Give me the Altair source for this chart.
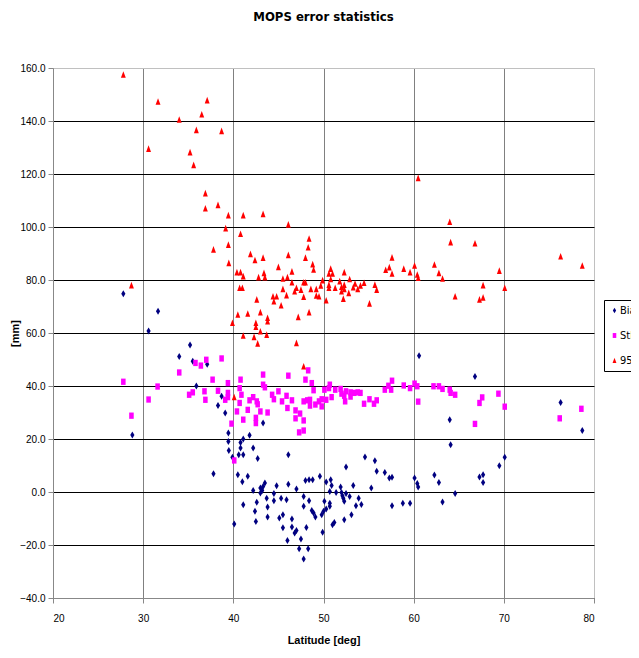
import altair as alt
import pandas as pd

# ---- data ----
bias_lat = [27.8, 31.65, 30.6, 35.2, 34.0, 35.5, 37.1, 35.9, 38.7, 38.3, 39.1, 28.8, 39.45, 39.45, 39.5, 40.8,
            39.9, 37.8, 40.5, 40.6, 41.1, 40.8, 41.1, 41.8, 42.2, 42.7, 43.3, 46.1, 41.0, 41.6, 40.1, 41.1,
            42.2, 42.6, 42.4, 42.5, 43.0, 43.2, 43.3, 43.5, 43.0, 43.7, 43.8, 43.8, 44.5, 44.5, 44.8, 45.1,
            45.5, 45.5, 45.3, 45.9, 46.1, 46.0, 46.5, 46.5, 46.8, 47.0, 47.0, 47.5, 47.3, 47.8, 48.3, 47.8,
            47.8, 48.1, 48.0, 48.4, 48.8, 48.4, 48.7, 48.9, 49.1, 49.6, 49.8, 49.9, 50.0, 50.1, 50.3, 50.3,
            50.7, 50.7, 50.8, 50.9, 50.7, 51.0, 51.2, 51.4, 51.9, 52.0, 52.1, 52.2, 52.3, 52.3, 52.5, 52.5,
            52.9, 53.1, 53.3, 53.6, 53.9, 54.2, 54.6, 55.3, 55.7, 55.9, 56.8, 57.3, 57.6, 57.6, 58.8, 59.6,
            60.6, 66.8, 76.3, 78.7, 64.0, 64.1, 70.1, 69.5, 60.1, 60.4, 60.5, 62.3, 62.8, 64.6, 63.2, 67.3,
            67.7, 67.7]
bias_val = [74.8, 68.2, 60.8, 55.5, 51.1, 49.3, 48.2, 40.0, 36.1, 32.6, 29.8, 21.5, 22.3, 19.1, 15.7, 18.7,
            13.1, 6.9, 6.5, 14.1, 14.1, 16.6, 20.0, 21.4, 16.6, 12.6, 26.0, 14.1, 3.9, 5.9, -12.1, -4.8,
            0.6, -3.9, -7.3, -11.1, 1.5, 0.6, 2.1, 3.4, -0.4, -2.4, -5.7, -9.4, -0.6, -3.3, 2.4, -9.8,
            -8.6, -13.5, -2.4, -2.9, 2.9, -18.3, -10.2, -13.2, -15.5, -14.5, 1.1, -17.7, -21.4, -25.3, -21.4, -1.7,
            -5.4, -13.4, 4.3, 4.6, 4.6, -3.3, -7.0, -7.9, -9.4, 5.9, -8.6, -15.2, -7.3, -3.5, -6.4, 3.8,
            -4.2, -5.4, 4.6, 2.5, 0.2, -12.4, -11.5, -0.2, 1.9, -0.2, -1.4, -2.4, -3.5, -10.5, 9.4, -0.6,
            -1.7, -8.6, 2.5, -5.2, -2.4, -4.7, 13.2, 1.5, 11.8, 7.8, 7.4, 5.3, 5.6, -5.2, -4.2, -4.2,
            51.4, 43.6, 33.8, 23.2, 27.3, 17.8, 13.1, 9.9, 5.3, 3.2, 1.9, 6.4, 3.6, -0.6, -3.8, 5.7,
            6.5, 3.6]

sd_lat = [27.8, 28.7, 30.6, 31.6, 34.0, 35.8, 36.4, 37.0, 38.7, 37.7, 35.1, 35.5, 36.8, 36.9, 38.3, 39.1,
          39.4, 39.4, 40.7, 40.8, 39.8, 40.4, 40.7, 40.1, 39.4, 40.9, 41.1, 41.6, 41.8, 42.2, 42.6, 42.7,
          42.5, 42.5, 43.0, 43.3, 43.3, 43.5, 43.8, 44.3, 44.5, 45.0, 45.4, 45.9, 46.0, 46.1, 46.5, 46.9,
          46.9, 47.4, 47.8, 47.3, 47.8, 47.8, 48.0, 48.3, 48.2, 48.5, 48.7, 48.9, 48.5, 49.1, 49.5, 49.8,
          49.8, 50.1, 50.3, 50.6, 50.7, 50.9, 51.3, 51.9, 52.0, 52.3, 52.5, 52.4, 53.0, 53.0, 53.4, 53.8,
          54.1, 54.5, 55.1, 55.6, 55.9, 56.8, 57.2, 57.5, 57.6, 58.9, 59.6, 60.1, 60.4, 60.5, 62.2, 62.8,
          63.2, 64.0, 64.1, 64.6, 66.8, 67.3, 67.6, 69.4, 70.1, 76.2, 78.6]
sd_val = [41.6, 28.8, 34.9, 39.8, 45.1, 48.7, 47.7, 49.9, 50.4, 42.4, 36.7, 37.6, 38.0, 34.8, 38.2, 34.8,
          41.1, 35.8, 39.2, 42.4, 25.8, 30.4, 33.6, 11.9, 37.4, 36.7, 27.3, 31.0, 34.6, 35.8, 34.2, 33.1,
          28.0, 26.0, 30.4, 44.3, 40.5, 39.5, 30.0, 36.7, 35.0, 38.0, 34.2, 36.3, 31.7, 43.9, 34.6, 30.8,
          27.8, 29.6, 27.0, 22.5, 23.2, 34.2, 42.4, 45.9, 34.6, 34.8, 41.1, 38.4, 32.6, 33.0, 34.2, 35.0,
          32.3, 38.6, 34.8, 39.2, 40.5, 35.8, 38.6, 38.9, 37.1, 36.3, 38.0, 34.2, 36.0, 37.6, 37.4, 37.6,
          37.4, 33.3, 35.0, 33.3, 34.6, 38.6, 40.1, 38.6, 42.0, 40.2, 39.2, 40.9, 39.9, 34.1, 39.9, 39.9,
          38.9, 38.6, 37.4, 36.7, 25.7, 33.6, 35.7, 37.1, 32.2, 27.8, 31.4]

p95_lat = [27.8, 31.65, 37.1, 36.5, 34.0, 35.9, 38.7, 30.6, 35.2, 35.6, 36.9, 36.9, 38.3, 39.45, 41.1, 39.15,
           40.8, 37.8, 39.45, 41.9, 39.5, 28.7, 43.3, 46.1, 48.4, 48.3, 42.4, 43.3, 46.1, 48.0, 48.8, 48.9,
           45.0, 46.5, 40.4, 40.8, 41.1, 42.8, 43.4, 43.5, 45.5, 46.0, 46.5, 47.8, 48.0, 50.8, 50.6, 51.0,
           50.8, 52.3, 49.9, 49.7, 50.6, 50.6, 51.3, 51.8, 52.0, 52.0, 52.3, 52.3, 52.2, 52.9, 52.8, 53.3,
           53.5, 53.8, 54.1, 54.5, 55.7, 55.9, 55.1, 56.9, 57.3, 57.6, 57.6, 58.9, 59.6, 40.7, 41.0, 42.6,
           44.4, 44.5, 44.8, 45.3, 45.5, 45.9, 46.8, 47.0, 47.5, 47.8, 48.6, 49.2, 49.2, 49.5, 50.3, 40.5,
           41.6, 39.9, 43.0, 43.8, 43.8, 42.5, 42.5, 43.0, 43.7, 41.1, 42.3, 42.7, 47.0, 47.2, 48.4, 47.8,
           40.1, 60.5, 64.0, 64.1, 66.8, 76.3, 78.7, 60.1, 60.4, 60.5, 62.3, 62.8, 63.2, 69.5, 67.7, 70.1,
           64.6, 67.3, 67.7]
p95_val = [157.5, 147.3, 147.8, 142.5, 140.5, 136.6, 136.2, 129.5, 128.2, 123.4, 112.7, 107.0, 108.3, 104.4, 104.4, 99.5,
           97.4, 91.5, 93.3, 89.8, 86.4, 78.0, 104.9, 100.9, 95.6, 92.3, 87.5, 88.4, 89.4, 88.4, 85.9, 83.9,
           84.9, 83.2, 82.9, 82.9, 81.4, 81.0, 82.6, 81.0, 80.5, 81.0, 79.1, 79.1, 79.1, 84.2, 82.4, 82.4,
           80.3, 82.9, 79.9, 77.9, 78.2, 77.0, 77.0, 79.5, 77.4, 75.7, 78.2, 76.6, 72.9, 80.3, 75.1, 77.2,
           78.6, 76.6, 77.9, 78.9, 78.2, 76.3, 71.1, 83.8, 84.8, 82.4, 88.5, 84.2, 82.9, 77.0, 77.0, 72.6,
           73.8, 71.9, 73.8, 70.4, 76.6, 74.2, 75.7, 77.0, 76.3, 73.6, 76.6, 76.6, 74.1, 73.8, 72.3, 66.9,
           67.3, 63.8, 67.8, 65.7, 64.4, 63.8, 62.3, 60.6, 59.3, 59.0, 58.5, 56.0, 56.2, 66.0, 67.8, 47.4,
           35.8, 118.5, 101.9, 94.2, 93.8, 88.9, 85.4, 85.4, 82.0, 80.8, 85.8, 82.6, 80.5, 83.5, 78.0, 77.0,
           73.8, 72.6, 73.4]

series_names = ["Bias", "StDev", "95%"]
series_colors = ["#000080", "#FF00FF", "#FF0000"]
x_ticks = [20, 30, 40, 50, 60, 70, 80]
y_ticks = [-40, -20, 0, 20, 40, 60, 80, 100, 120, 140, 160]

rows = []
for name, lats, vals in [("Bias", bias_lat, bias_val), ("StDev", sd_lat, sd_val), ("95%", p95_lat, p95_val)]:
    for la, v in zip(lats, vals):
        rows.append({"lat": la, "val": v, "series": name})
df = pd.DataFrame(rows)
df["order"] = df["series"].map({n: i for i, n in enumerate(series_names)})

FONT = "DejaVu Sans Condensed, Liberation Sans, sans-serif"

shapes = [
    "M0,-1L0.6,0L0,1L-0.6,0Z",
    "M-0.65,-0.9L0.65,-0.9L0.65,0.9L-0.65,0.9Z",
    "M0,-1L0.7,0.9L-0.7,0.9Z",
]

chart = alt.Chart(df).mark_point(filled=True, size=49, opacity=1, strokeWidth=0).encode(
    x=alt.X("lat:Q", scale=alt.Scale(domain=[20, 80], nice=False, zero=False),
            axis=alt.Axis(values=x_ticks, title="Latitude [deg]", format="d",
                          gridColor={"condition": {"test": "datum.value === 80", "value": "#c0c0c0"}, "value": "#808080"},
                          labelPadding=10, titleY=42, titleBaseline="middle")),
    y=alt.Y("val:Q", scale=alt.Scale(domain=[-40, 160], nice=False, zero=False),
            axis=alt.Axis(values=y_ticks, title="[mm]", format=".1f",
                          gridColor={"condition": {"test": "datum.value === 160", "value": "#c0c0c0"}, "value": "#000000"},
                          labelPadding=3, titleX=-38, titleY=265, titleBaseline="middle", titleAlign="center")),
    color=alt.Color("series:N", scale=alt.Scale(domain=series_names, range=series_colors),
                    legend=alt.Legend(title=None, orient="none", legendX=551, legendY=232,
                                      strokeColor="black", fillColor="white", padding=5,
                                      rowPadding=13, labelFontSize=11, labelFont=FONT,
                                      labelOffset=0, symbolSize=30, symbolStrokeWidth=0)),
    shape=alt.Shape("series:N", scale=alt.Scale(domain=series_names, range=shapes), legend=None),
    order=alt.Order("order:Q"),
).properties(
    width=541, height=530,
    title=alt.TitleParams("MOPS error statistics", fontSize=13, fontWeight="bold", font=FONT,
                          anchor="middle", offset=39, color="black"),
    autosize=alt.AutoSizeParams(type="none"),
    padding={"left": 45, "top": 60, "right": 37, "bottom": 52},
).configure_view(
    stroke=None,
).configure_axis(
    domainColor="black", tickColor="black", tickSize=4, gridWidth=1,
    labelFont=FONT, labelFontSize=11, labelColor="black",
    titleFont=FONT, titleFontSize=11, titleFontWeight="bold", titleColor="black",
).configure(background="white")

chart.save("out.html", embed_options={"renderer": "svg", "actions": False})
